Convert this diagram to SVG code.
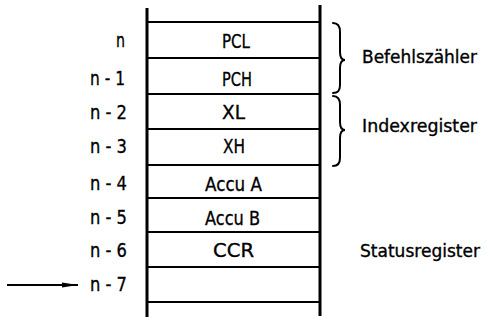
<svg xmlns="http://www.w3.org/2000/svg" width="487" height="320" viewBox="0 0 487 320">
<style>
text{font-family:"DejaVu Sans","Liberation Sans",sans-serif;font-size:19.5px;fill:#000;stroke:#000;stroke-width:0.35}
.r{font-size:17px}
.c{text-anchor:middle}
.v{stroke:#000;stroke-width:3;fill:none}
.h{stroke:#000;stroke-width:2;fill:none}
.b{stroke:#000;stroke-width:2;fill:none;stroke-linecap:round}
</style>
<defs>
<marker id="ah" markerWidth="16" markerHeight="7" refX="16" refY="3.5" orient="auto" markerUnits="userSpaceOnUse">
<path d="M0,0.9 L16,3.5 L0,6.1 Z" fill="#000"/>
</marker>
</defs>
<g id="stack">
<line class="v" x1="147" y1="8" x2="147" y2="317"/>
<line class="v" x1="320" y1="5" x2="320" y2="316"/>
<line class="h" x1="147" y1="22" x2="320" y2="22"/>
<line class="h" x1="147" y1="58" x2="320" y2="58"/>
<line class="h" x1="147" y1="94" x2="320" y2="94"/>
<line class="h" x1="147" y1="129" x2="320" y2="129"/>
<line class="h" x1="147" y1="165" x2="320" y2="165"/>
<line class="h" x1="147" y1="198" x2="320" y2="198"/>
<line class="h" x1="147" y1="232" x2="320" y2="232"/>
<line class="h" x1="147" y1="267" x2="320" y2="267"/>
<line class="h" x1="147" y1="302" x2="320" y2="302"/>
</g>
<g id="cell-pcl"><text class="c" x="236" y="48" textLength="28" lengthAdjust="spacingAndGlyphs">PCL</text></g>
<g id="cell-pch"><text class="c" x="237" y="86" textLength="30" lengthAdjust="spacingAndGlyphs">PCH</text></g>
<g id="cell-xl"><text class="c" x="233.5" y="119" textLength="23" lengthAdjust="spacingAndGlyphs">XL</text></g>
<g id="cell-xh"><text class="c" x="234" y="153" textLength="22" lengthAdjust="spacingAndGlyphs">XH</text></g>
<g id="cell-accua"><text class="c" x="233.5" y="191" textLength="57" lengthAdjust="spacingAndGlyphs">Accu A</text></g>
<g id="cell-accub"><text class="c" x="232.5" y="225" textLength="55" lengthAdjust="spacingAndGlyphs">Accu B</text></g>
<g id="cell-ccr"><text class="c" x="233.5" y="257" textLength="41" lengthAdjust="spacingAndGlyphs">CCR</text></g>
<g id="addr-labels">
<text x="116" y="47" textLength="9" lengthAdjust="spacingAndGlyphs">n</text>
<text x="90" y="85" textLength="35" lengthAdjust="spacingAndGlyphs">n - 1</text>
<text x="90" y="119" textLength="37" lengthAdjust="spacingAndGlyphs">n - 2</text>
<text x="90" y="153" textLength="37" lengthAdjust="spacingAndGlyphs">n - 3</text>
<text x="90" y="190" textLength="37" lengthAdjust="spacingAndGlyphs">n - 4</text>
<text x="90" y="224" textLength="37" lengthAdjust="spacingAndGlyphs">n - 5</text>
<text x="90" y="257" textLength="37" lengthAdjust="spacingAndGlyphs">n - 6</text>
<text x="90" y="291" textLength="37" lengthAdjust="spacingAndGlyphs">n - 7</text>
</g>
<g id="befehlszaehler">
<path class="b" d="M333,23 C338,23 340,26 340,32 L340,52 C340,57 342,60 345,60 C342,60 340,63 340,68 L340,85 C340,91 338,93 333,93"/>
<text class="r" x="362" y="63" textLength="115" lengthAdjust="spacingAndGlyphs">Befehlszähler</text>
</g>
<g id="indexregister">
<path class="b" d="M333,96 C338,96 340,99 340,105 L340,122 C340,127 342,130 345,130 C342,130 340,133 340,138 L340,158 C340,163 338,166 333,166"/>
<text class="r" x="362" y="132" textLength="115" lengthAdjust="spacingAndGlyphs">Indexregister</text>
</g>
<g id="statusregister">
<text class="r" x="360" y="257" textLength="120" lengthAdjust="spacingAndGlyphs">Statusregister</text>
</g>
<g id="connectors">
<line x1="7" y1="285" x2="78" y2="285" stroke="#000" stroke-width="1.8" marker-end="url(#ah)"/>
</g>
</svg>
